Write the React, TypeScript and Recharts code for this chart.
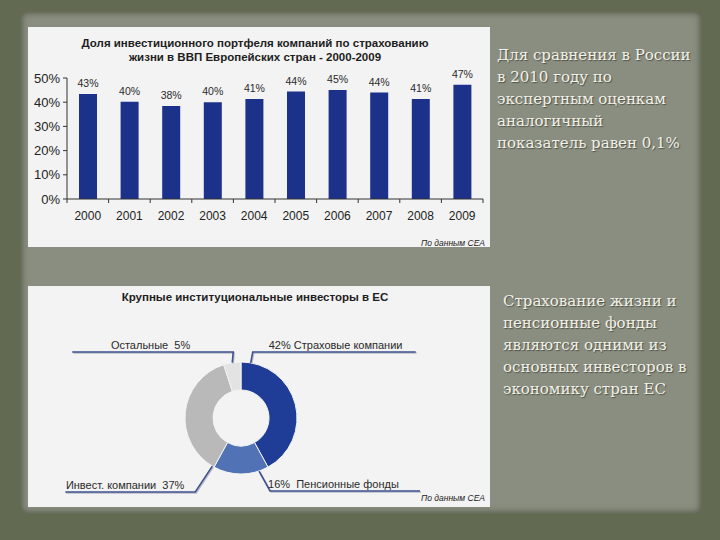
import React from 'react';
import { BarChart, Bar, XAxis, YAxis, LabelList, PieChart, Pie, Cell } from 'recharts';

const years = ['2000', '2001', '2002', '2003', '2004', '2005', '2006', '2007', '2008', '2009'];
const shares = [43.4, 40.2, 38.4, 40, 41.3, 44.4, 45, 44, 41.3, 47.2];
const yTicks = [0, 10, 20, 30, 40, 50];

const investorNames = ['Страховые компании', 'Пенсионные фонды', 'Инвест. компании', 'Остальные'];
const investorShares = [42, 16, 37, 5];
const investorColors = ['#1f3d96', '#5173b6', '#b9b9b9', '#e3e3e3'];

const barTitle1 = 'Доля инвестиционного портфеля компаний по страхованию';
const barTitle2 = 'жизни в ВВП Европейских стран - 2000-2009';
const pieTitle = 'Крупные институциональные инвесторы в ЕС';
const sourceText = 'По данным CEA';
const note1 = ['Для сравнения в России', 'в 2010 году по', 'экспертным оценкам', 'аналогичный', 'показатель равен 0,1%'];
const note2 = ['Страхование жизни и', 'пенсионные фонды', 'являются одними из', 'основных инвесторов в', 'экономику стран ЕС'];

const barData = years.map((y, i) => ({ year: y, share: shares[i] }));
const pieData = investorNames.map((n, i) => ({ name: n, value: investorShares[i] }));

const FONT = 'Arial, "Liberation Sans", sans-serif';
const RAD = Math.PI / 180;

const XTick = (props: any) => {
  const { x, y, payload, index, visibleTicksCount } = props;
  const off = payload && payload.offset ? payload.offset : 0;
  const axisY = y - 8;
  return (
    <g>
      <line x1={x - off} x2={x - off} y1={axisY} y2={axisY + 4} stroke="#333" />
      {index === (visibleTicksCount ?? years.length) - 1 && (
        <line x1={x + off} x2={x + off} y1={axisY} y2={axisY + 4} stroke="#333" />
      )}
      <text x={x} y={y + 13} textAnchor="middle" fontSize={12} fill="#222" fontFamily={FONT}>
        {payload.value}
      </text>
    </g>
  );
};

const PieLabel = (props: any) => {
  const { cx, cy, outerRadius, startAngle, midAngle, index, name, value } = props;
  const r = outerRadius;
  let a = midAngle;
  if (index === 0 || index === 1) a = startAngle - 10;
  if (index === 2) a = startAngle - 2;
  const ax = cx + r * Math.cos(a * RAD);
  const ay = cy - r * Math.sin(a * RAD);
  let ex = ax, ey = ay, lx = ax, tx = ax, ty = ay, anchor: any = 'start', label = '';
  if (index === 0) {
    ex = ax + 2; ey = cy - r - 10; lx = ex + 163; tx = ex + 16; ty = ey - 3; anchor = 'start';
    label = `${value}% ${name}`;
  } else if (index === 3) {
    ex = ax + 1; ey = cy - r - 10; lx = ex - 161; tx = ex - 43; ty = ey - 3; anchor = 'end';
    label = `${name}  ${value}%`;
  } else if (index === 2) {
    ex = ax - 17; ey = cy + r + 18; lx = ex - 130; tx = ex - 11; ty = ey - 3; anchor = 'end';
    label = `${name}  ${value}%`;
  } else {
    ex = ax + 11; ey = cy + r + 17; lx = ex + 150; tx = ex - 2; ty = ey - 3; anchor = 'start';
    label = `${value}%  ${name}`;
  }
  const pts = `${ax},${ay} ${ex},${ey} ${lx},${ey}`;
  const pts2 = `${ax + 1},${ay + 1} ${ex + 1},${ey + 1} ${lx + 1},${ey + 1}`;
  return (
    <g>
      <polyline points={pts2} fill="none" stroke="#b8bcc8" strokeWidth={1.5} />
      <polyline points={pts} fill="none" stroke="#3f5190" strokeWidth={1.6} />
      <text x={tx} y={ty} textAnchor={anchor} fontSize={11} fill="#2a2a2a" fontFamily={FONT} style={{ whiteSpace: 'pre' }}>
        {label}
      </text>
    </g>
  );
};

const noteStyle: React.CSSProperties = {
  position: 'absolute',
  fontFamily: '"DejaVu Serif", serif',
  fontSize: 15,
  lineHeight: '22px',
  color: '#f1f1ea',
  textShadow: '1px 1px 1px rgba(40,45,35,0.6)',
  whiteSpace: 'nowrap',
};

export default function App() {
  return (
    <div style={{ position: 'absolute', left: 0, top: 0, width: 720, height: 540, background: '#626b51', overflow: 'hidden' }}>
      <div style={{ position: 'absolute', left: 20, top: 11, width: 682, height: 503, background: '#8a8e80', borderRadius: 6, boxShadow: '0 0 6px 2px rgba(70,78,58,0.8) inset' }} />

      <div style={{ position: 'absolute', left: 28, top: 27, width: 462, height: 220, background: '#f3f3f3' }}>
        <div style={{ position: 'absolute', left: 0, top: 9, width: 454, textAlign: 'center', fontFamily: FONT, fontWeight: 'bold', fontSize: 11.5, lineHeight: '14px', color: '#1e1e1e' }}>
          {barTitle1}<br />{barTitle2}
        </div>
        <div style={{ position: 'absolute', left: 0, top: 0 }}>
          <BarChart width={462} height={220} data={barData} margin={{ top: 51, right: 7, bottom: 18, left: 0 }}>
            <YAxis
              width={39}
              domain={[0, 50]}
              ticks={yTicks}
              tickFormatter={(v: number) => `${v}%`}
              tickSize={4}
              tickMargin={3}
              stroke="#333"
              tick={{ fontSize: 13, fill: '#222', fontFamily: FONT }}
              axisLine={{ stroke: '#333' }}
            />
            <XAxis dataKey="year" height={30} tickLine={false} axisLine={{ stroke: '#333' }} tick={<XTick />} interval={0} />
            <Bar dataKey="share" fill="#1c3189" barSize={18} isAnimationActive={false}>
              <LabelList dataKey="share" position="top" offset={7} formatter={(v: any) => `${Math.round(v)}%`} style={{ fontSize: 10.5, fill: '#2a2a2a', fontFamily: FONT }} />
            </Bar>
          </BarChart>
        </div>
        <div style={{ position: 'absolute', right: 5, top: 211, fontFamily: FONT, fontStyle: 'italic', fontSize: 8.5, color: '#222' }}>{sourceText}</div>
      </div>

      <div style={{ position: 'absolute', left: 28, top: 286, width: 462, height: 221, background: '#f3f3f3' }}>
        <div style={{ position: 'absolute', left: 0, top: 5, width: 454, textAlign: 'center', fontFamily: FONT, fontWeight: 'bold', fontSize: 11.5, color: '#1e1e1e' }}>
          {pieTitle}
        </div>
        <div style={{ position: 'absolute', left: 0, top: 0 }}>
          <PieChart width={462} height={221}>
            <Pie
              data={pieData}
              dataKey="value"
              nameKey="name"
              cx={208}
              cy={127}
              innerRadius={28}
              outerRadius={56}
              startAngle={90}
              endAngle={-270}
              stroke="#f3f3f3"
              strokeWidth={1}
              label={<PieLabel />}
              labelLine={false}
              isAnimationActive={false}
            >
              {pieData.map((d, i) => (
                <Cell key={d.name} fill={investorColors[i]} />
              ))}
            </Pie>
          </PieChart>
        </div>
        <div style={{ position: 'absolute', right: 5, top: 207, fontFamily: FONT, fontStyle: 'italic', fontSize: 8.5, color: '#222' }}>{sourceText}</div>
      </div>

      <div style={{ ...noteStyle, left: 497, top: 44 }}>
        {note1.map((l) => <div key={l}>{l}</div>)}
      </div>
      <div style={{ ...noteStyle, left: 503, top: 290 }}>
        {note2.map((l) => <div key={l}>{l}</div>)}
      </div>
    </div>
  );
}
